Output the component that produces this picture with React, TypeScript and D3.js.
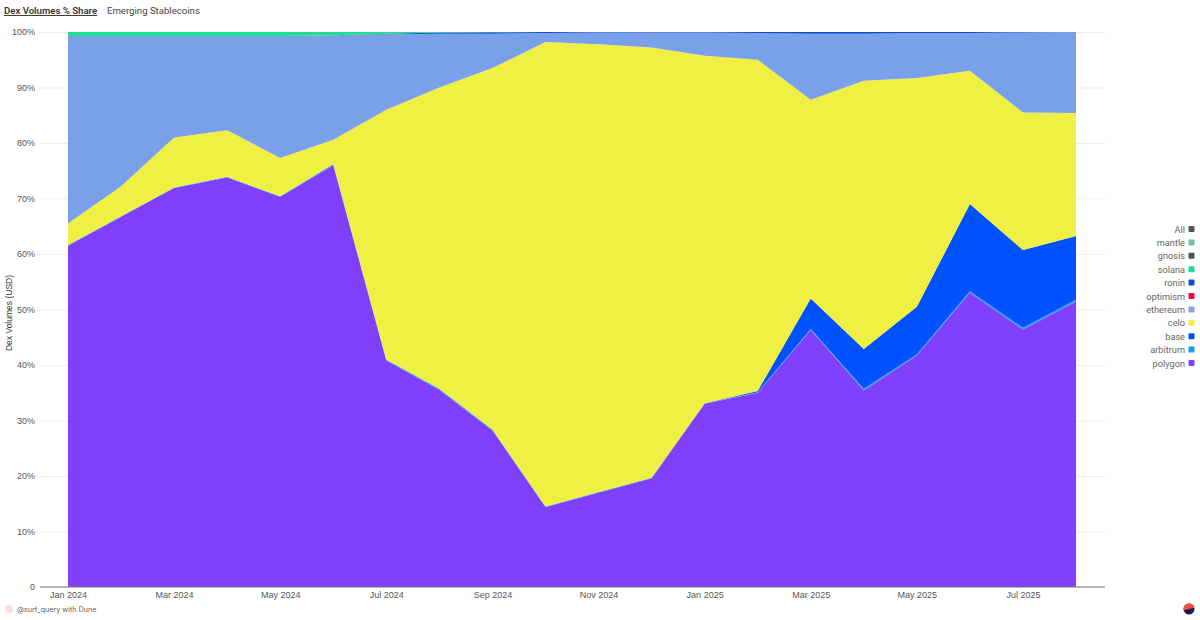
import React, { useEffect, useRef } from 'react';
import * as d3 from 'd3';

const months = [
  'Jan 2024', 'Feb 2024', 'Mar 2024', 'Apr 2024', 'May 2024', 'Jun 2024', 'Jul 2024', 'Aug 2024', 'Sep 2024', 'Oct 2024',
  'Nov 2024', 'Dec 2024', 'Jan 2025', 'Feb 2025', 'Mar 2025', 'Apr 2025', 'May 2025', 'Jun 2025', 'Jul 2025', 'Aug 2025',
];
const monthTicks = months.filter((_, i) => i % 2 === 0);
const percentTicks = [0, 0.1, 0.2, 0.3, 0.4, 0.5, 0.6, 0.7, 0.8, 0.9, 1];

const polygon = [61.5, 66.7, 71.9, 73.8, 70.3, 76, 40.8, 35.5, 28.2, 14.4, 17, 19.6, 33, 35, 46.3, 35.4, 41.7, 53, 46.4, 51.4];
const arbitrum = [0.1, 0.1, 0.1, 0.1, 0.1, 0.2, 0.2, 0.2, 0.2, 0.1, 0.1, 0.1, 0.1, 0.1, 0.2, 0.3, 0.2, 0.3, 0.3, 0.3];
const base = [0, 0, 0, 0, 0, 0, 0, 0, 0, 0, 0, 0, 0, 0.2, 5.5, 7.2, 8.6, 15.7, 14, 11.5];
const celo = [3.9, 5.4, 9, 8.4, 6.9, 4.4, 45, 54.3, 65.1, 83.7, 80.7, 77.5, 62.6, 59.7, 35.8, 48.3, 41.2, 24, 24.8, 22.1];
const ethereum = [33.8, 27.1, 18.3, 17, 22, 18.8, 13.6, 9.7, 6.2, 1.6, 2.1, 2.7, 4.2, 4.8, 11.9, 8.5, 8.1, 6.8, 14.4, 14.6];
const optimism = [0, 0, 0, 0, 0, 0, 0, 0, 0, 0, 0, 0, 0, 0, 0, 0, 0, 0, 0, 0];
const ronin = [0, 0, 0, 0, 0, 0, 0.1, 0.2, 0.25, 0.2, 0.1, 0.1, 0.1, 0.2, 0.3, 0.3, 0.2, 0.2, 0.1, 0];
const solana = [0.7, 0.7, 0.7, 0.7, 0.7, 0.6, 0.3, 0.1, 0.05, 0, 0, 0, 0, 0, 0, 0, 0, 0, 0, 0];

const seriesNames = ['polygon', 'arbitrum', 'base', 'celo', 'ethereum', 'optimism', 'ronin', 'solana'];
const seriesValues = [polygon, arbitrum, base, celo, ethereum, optimism, ronin, solana];

const legendNames = ['All', 'mantle', 'gnosis', 'solana', 'ronin', 'optimism', 'ethereum', 'celo', 'base', 'arbitrum', 'polygon'];
const legendColors = ['#555558', '#6cc4a4', '#3c5a50', '#1fe08f', '#0a4fc8', '#ee0a3c', '#8aa4ea', '#f0ef45', '#0052ff', '#1a9fef', '#7f40f5'];

const areaColors: Record<string, string> = {
  polygon: '#8040fb',
  arbitrum: '#2a9df4',
  base: '#0052ff',
  celo: '#efef44',
  ethereum: '#7aa0ea',
  optimism: '#ee0a3c',
  ronin: '#0a4fc8',
  solana: '#1fe08f',
};

const App: React.FC = () => {
  const svgRef = useRef<SVGSVGElement | null>(null);

  useEffect(() => {
    const width = 1200;
    const height = 620;
    const svg = d3.select(svgRef.current);
    svg.selectAll('*').remove();

    const x = d3.scalePoint<string>().domain(months).range([68, 1076]);
    const y = d3.scaleLinear().domain([0, 1]).range([587, 32]);

    // gridlines and y labels, they run past the plot on both sides
    const yAxis = svg.append('g')
      .attr('transform', 'translate(40,0)')
      .call(
        d3.axisLeft(y)
          .tickValues(percentTicks)
          .tickSize(-1065)
          .tickPadding(5)
          .tickFormat(d => (+d === 0 ? '0' : `${Math.round(+d * 100)}%`))
      );
    yAxis.select('.domain').remove();
    yAxis.selectAll('.tick line').attr('stroke', '#eeeeee');
    yAxis.selectAll('.tick text')
      .attr('fill', '#555')
      .style('font', '9px "Liberation Sans", sans-serif');

    const rows = months.map((m, i) => {
      const row: Record<string, number | string> = { month: m };
      seriesNames.forEach((name, s) => { row[name] = seriesValues[s][i]; });
      return row;
    });

    const stacked = d3.stack<any>()
      .keys(seriesNames)
      .offset(d3.stackOffsetExpand)(rows);

    const area = d3.area<any>()
      .x(d => x(d.data.month) as number)
      .y0(d => y(d[0]))
      .y1(d => y(d[1]));

    svg.append('g')
      .selectAll('path')
      .data(stacked)
      .enter()
      .append('path')
      .attr('d', d => area(d))
      .attr('fill', d => areaColors[d.key]);

    const xAxis = svg.append('g')
      .attr('transform', 'translate(0,587)')
      .call(d3.axisBottom(x).tickValues(monthTicks).tickSize(0).tickPadding(5));
    xAxis.select('.domain').remove();
    xAxis.selectAll('.tick text')
      .attr('fill', '#555')
      .style('font', '9px "Liberation Sans", sans-serif');
    xAxis.append('line')
      .attr('x1', 40)
      .attr('x2', 1105)
      .attr('stroke', '#777')
      .attr('stroke-width', 1);

    svg.append('text')
      .attr('transform', 'translate(12,313) rotate(-90)')
      .attr('text-anchor', 'middle')
      .attr('fill', '#333')
      .style('font', '8.5px "Liberation Sans", sans-serif')
      .text('Dex Volumes (USD)');

    // header
    svg.append('text')
      .attr('x', 4)
      .attr('y', 14)
      .attr('fill', '#333')
      .attr('text-decoration', 'underline')
      .style('font', '600 9.6px "Roboto", sans-serif')
      .text('Dex Volumes % Share');
    svg.append('text')
      .attr('x', 107)
      .attr('y', 14)
      .attr('fill', '#444')
      .style('font', '9.6px "Roboto", sans-serif')
      .text('Emerging Stablecoins');

    // legend
    const legendY = d3.scalePoint<string>().domain(legendNames).range([229, 363]);
    const legend = svg.append('g')
      .selectAll('g')
      .data(legendNames)
      .enter()
      .append('g')
      .attr('transform', d => `translate(0,${legendY(d)})`);
    legend.append('text')
      .attr('x', 1185)
      .attr('y', 3.5)
      .attr('text-anchor', 'end')
      .attr('fill', '#666')
      .style('font', '9.2px "Roboto", sans-serif')
      .text(d => d);
    legend.append('rect')
      .attr('x', 1188.5)
      .attr('y', -3)
      .attr('width', 6)
      .attr('height', 6)
      .attr('rx', 1)
      .attr('fill', (_, i) => legendColors[i]);

    // footer
    svg.append('circle').attr('cx', 9).attr('cy', 609).attr('r', 4).attr('fill', '#fbdcdc');
    svg.append('text')
      .attr('x', 17)
      .attr('y', 612)
      .attr('fill', '#666')
      .style('font', '7.2px "Inter", sans-serif')
      .text('@surf_query with Dune');

    const logoX = 1189;
    const logoY = 609;
    svg.append('circle').attr('cx', logoX).attr('cy', logoY).attr('r', 5.5).attr('fill', '#1e1a4b');
    const logoArc = d3.arc<any>()
      .innerRadius(0)
      .outerRadius(5.5)
      .startAngle(-Math.PI / 2 - 0.25)
      .endAngle(Math.PI / 2 - 0.25);
    svg.append('path')
      .attr('transform', `translate(${logoX},${logoY})`)
      .attr('d', logoArc({}) as string)
      .attr('fill', '#f0503c');

    svg.attr('width', width).attr('height', height);
  }, []);

  return <svg ref={svgRef} style={{ position: 'absolute', left: 0, top: 0, background: '#fff' }}></svg>;
};

export default App;
